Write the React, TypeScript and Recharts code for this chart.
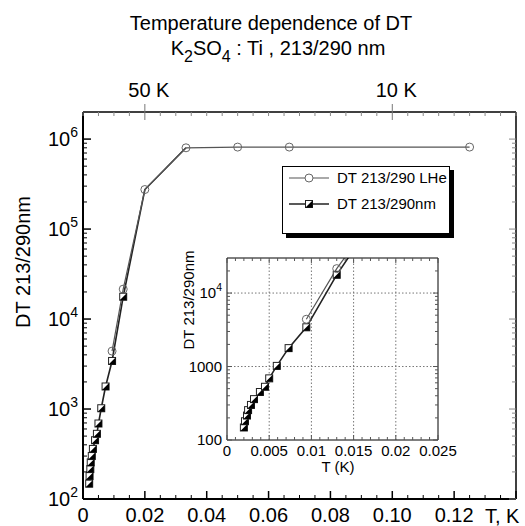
import React from 'react';
import { LineChart, Line, XAxis, YAxis, Legend, ReferenceLine } from 'recharts';

// DT 213/290nm (half-filled squares), x = 1/T
const nmInvT = [0.002, 0.00213, 0.00237, 0.0025, 0.00284, 0.0032, 0.0039, 0.0045, 0.005, 0.0059, 0.0073, 0.0094, 0.013, 0.02, 0.0333];
const nmDT = [148, 180, 215, 255, 300, 360, 450, 530, 690, 1020, 1780, 3420, 17700, 275000, 800000];

// DT 213/290 LHe (open circles)
const lheInvT = [0.0094, 0.013, 0.02, 0.0333, 0.05, 0.0667, 0.125];
const lheDT = [4400, 21500, 275000, 800000, 815000, 815000, 815000];

const mainXTickValues = [0, 0.02, 0.04, 0.06, 0.08, 0.1, 0.12];
const mainXTickLabels = ['0', '0.02', '0.04', '0.06', '0.08', '0.10', '0.12'];
const topTickValues = [0.02, 0.1];
const topTickLabels = ['50 K', '10 K'];
const mainYTickValues = [100, 1000, 10000, 100000, 1000000];
const mainYTickLabels = ['10^2', '10^3', '10^4', '10^5', '10^6'];

const insetXTickValues = [0, 0.005, 0.01, 0.015, 0.02, 0.025];
const insetXTickLabels = ['0', '0.005', '0.01', '0.015', '0.02', '0.025'];
const insetYTickValues = [100, 1000, 10000];
const insetYTickLabels = ['100', '1000', '10^4'];
const insetGridX = [0.005, 0.01, 0.015, 0.02];
const insetGridY = [1000, 10000];

const nmData = nmInvT.map((x, i) => ({ x, dt: nmDT[i] }));
const lheData = lheInvT.map((x, i) => ({ x, dt: lheDT[i] }));

const FONT = '"Liberation Sans", Arial, Helvetica, sans-serif';

const near = (v: number, arr: number[]) => arr.findIndex((t) => Math.abs(t - v) < 1e-9);
const linTicks = (max: number, step: number) => {
  const out: number[] = [];
  for (let k = 0; k * step <= max + 1e-9; k++) out.push(Number((k * step).toFixed(6)));
  return out;
};
const logTicks = (min: number, max: number) => {
  const out: number[] = [];
  for (let d = min; d < max; d *= 10) for (let m = 1; m < 10; m++) if (d * m < max) out.push(d * m);
  return out;
};

const mainXTicks = linTicks(0.14, 0.005);
const mainYTicks = logTicks(100, 2e6);
const insetXTicks = linTicks(0.025, 0.001);
const insetYTicks = logTicks(100, 30000);

const SupText = ({ x, y, label, size, anchor }: any) => {
  const [base, exp] = label.split('^');
  return (
    <text x={x} y={y} textAnchor={anchor} fontSize={size} fontFamily={FONT} fill="#000">
      {base}
      {exp && (
        <tspan dy={-size * 0.45} fontSize={size * 0.7}>
          {exp}
        </tspan>
      )}
    </text>
  );
};

// ---- main chart ticks (drawn inward) ----
const MainBottomTick = ({ x, y, payload }: any) => {
  const i = near(payload.value, mainXTickValues);
  const major = Math.round(payload.value / 0.005) % 4 === 0;
  return (
    <g>
      <line x1={x} x2={x} y1={y} y2={y - (major ? 8 : 4)} stroke="#000" strokeWidth={major ? 1.5 : 1} />
      {i >= 0 && (
        <text x={x} y={y + 23} textAnchor="middle" fontSize={20} fontFamily={FONT} fill="#000">
          {mainXTickLabels[i]}
        </text>
      )}
    </g>
  );
};

const MainTopTick = ({ x, y, payload }: any) => {
  const i = near(payload.value, topTickValues);
  return (
    <g>
      {i >= 0 ? (
        <line x1={x} x2={x} y1={y - 8} y2={y + 8} stroke="#777" />
      ) : (
        <line x1={x} x2={x} y1={y} y2={y + 4} stroke="#888" />
      )}
      {i >= 0 && (
        <text x={x + 4} y={y - 15} textAnchor="middle" fontSize={20} fontFamily={FONT} fill="#000">
          {topTickLabels[i]}
        </text>
      )}
    </g>
  );
};

const MainLeftTick = ({ x, y, payload }: any) => {
  const i = near(payload.value, mainYTickValues);
  return (
    <g>
      <line x1={x} x2={x + (i >= 0 ? 8 : 4)} y1={y} y2={y} stroke="#000" strokeWidth={i >= 0 ? 1.5 : 1} />
      {i >= 0 && <SupText x={x - 5} y={y + 7} label={mainYTickLabels[i]} size={20} anchor="end" />}
    </g>
  );
};

const MainRightTick = ({ x, y, payload }: any) => {
  const i = near(payload.value, mainYTickValues);
  return <line x1={x} x2={x - (i >= 0 ? 7 : 4)} y1={y} y2={y} stroke="#888" />;
};

// ---- inset ticks ----
const InsetBottomTick = ({ x, y, payload }: any) => {
  const i = near(payload.value, insetXTickValues);
  return (
    <g>
      <line x1={x} x2={x} y1={y} y2={y - (i >= 0 ? 5 : 3)} stroke="#555" />
      {i >= 0 && (
        <text x={x} y={y + 16} textAnchor="middle" fontSize={15} fontFamily={FONT} fill="#000">
          {insetXTickLabels[i]}
        </text>
      )}
    </g>
  );
};

const InsetTopTick = ({ x, y, payload }: any) => {
  const i = near(payload.value, insetXTickValues);
  return <line x1={x} x2={x} y1={y} y2={y + (i >= 0 ? 5 : 3)} stroke="#555" />;
};

const InsetLeftTick = ({ x, y, payload }: any) => {
  const i = near(payload.value, insetYTickValues);
  return (
    <g>
      <line x1={x} x2={x + (i >= 0 ? 5 : 3)} y1={y} y2={y} stroke="#555" />
      {i >= 0 && <SupText x={x - 5} y={y + 5} label={insetYTickLabels[i]} size={15} anchor="end" />}
    </g>
  );
};

const InsetRightTick = ({ x, y, payload }: any) => {
  const i = near(payload.value, insetYTickValues);
  return <line x1={x} x2={x - (i >= 0 ? 5 : 3)} y1={y} y2={y} stroke="#555" />;
};

// ---- markers ----
const HalfSquare = (props: any) => {
  const { cx, cy, index, payload } = props;
  if (cx == null || cy == null || payload.x > 0.015) return <g key={`s${index}`} />;
  const h = 3.5;
  return (
    <g key={`s${index}`}>
      <rect x={cx - h} y={cy - h} width={2 * h} height={2 * h} fill="#fff" stroke="#222" strokeWidth={1} />
      <polygon points={`${cx + h},${cy - h} ${cx + h},${cy + h} ${cx - h},${cy + h}`} fill="#000" />
    </g>
  );
};

const OpenCircle = (props: any) => {
  const { cx, cy, index } = props;
  if (cx == null || cy == null) return <g key={`c${index}`} />;
  return <circle key={`c${index}`} cx={cx} cy={cy} r={4} fill="none" stroke="#666" strokeWidth={1} />;
};

const LegendBox = () => (
  <div style={{ width: 166, height: 66, border: '1.5px solid #000', boxShadow: '4px 4px 0 #000', background: '#fff' }}>
    <svg width={166} height={66}>
      <line x1={6} x2={46} y1={11} y2={11} stroke="#555" strokeWidth={1.2} />
      <circle cx={26} cy={11} r={4} fill="#fff" stroke="#666" />
      <text x={54} y={16} fontSize={15} fontFamily={FONT} fill="#000">
        DT 213/290 LHe
      </text>
      <line x1={6} x2={46} y1={37} y2={37} stroke="#222" strokeWidth={1.6} />
      <rect x={22.5} y={33.5} width={7} height={7} fill="#fff" stroke="#222" />
      <polygon points="29.5,33.5 29.5,40.5 22.5,40.5" fill="#000" />
      <text x={54} y={42} fontSize={15} fontFamily={FONT} fill="#000">
        DT 213/290nm
      </text>
    </svg>
  </div>
);

export default function App() {
  return (
    <div style={{ position: 'absolute', left: 0, top: 0, width: 525, height: 526, background: '#fff' }}>
      <LineChart width={525} height={526} margin={{ top: 0, right: 0, bottom: 0, left: 0 }}>
        <XAxis xAxisId="b" type="number" dataKey="x" domain={[0, 0.14]} allowDataOverflow ticks={mainXTicks} interval={0}
          tick={MainBottomTick} tickLine={false} tickSize={0} tickMargin={0} height={27} axisLine={{ stroke: '#000', strokeWidth: 2 }} />
        <XAxis xAxisId="t" orientation="top" type="number" dataKey="x" domain={[0, 0.14]} allowDataOverflow ticks={mainXTicks} interval={0}
          tick={MainTopTick} tickLine={false} tickSize={0} tickMargin={0} height={112} axisLine={{ stroke: '#000', strokeWidth: 1.5 }} />
        <YAxis yAxisId="l" type="number" scale="log" domain={[100, 2e6]} allowDataOverflow ticks={mainYTicks} interval={0}
          tick={MainLeftTick} tickLine={false} tickSize={0} tickMargin={0} width={83} axisLine={{ stroke: '#000', strokeWidth: 2 }} />
        <YAxis yAxisId="r" orientation="right" type="number" scale="log" domain={[100, 2e6]} allowDataOverflow ticks={mainYTicks} interval={0}
          tick={MainRightTick} tickLine={false} tickSize={0} tickMargin={0} width={9} axisLine={{ stroke: '#000', strokeWidth: 1.5 }} />
        <Legend layout="vertical" align="center" verticalAlign="middle" content={LegendBox}
          wrapperStyle={{ left: 282, top: 166, width: 172, height: 72 }} />
        {/* invisible copy so the top/right frame axes get a domain */}
        <Line xAxisId="t" yAxisId="r" data={lheData} dataKey="dt" stroke="none" dot={false} activeDot={false}
          legendType="none" isAnimationActive={false} />
        <Line xAxisId="b" yAxisId="l" data={nmData} dataKey="dt" type="linear" stroke="#222" strokeWidth={1.6}
          dot={HalfSquare} activeDot={false} isAnimationActive={false} />
        <Line xAxisId="b" yAxisId="l" data={lheData} dataKey="dt" type="linear" stroke="#555" strokeWidth={1.2}
          dot={OpenCircle} activeDot={false} isAnimationActive={false} />
      </LineChart>

      <div style={{ position: 'absolute', left: 150, top: 240 }}>
        <LineChart width={330} height={240} margin={{ top: 0, right: 0, bottom: 0, left: 0 }}>
          <XAxis xAxisId="b" type="number" dataKey="x" domain={[0, 0.025]} allowDataOverflow ticks={insetXTicks} interval={0}
            tick={InsetBottomTick} tickLine={false} tickSize={0} tickMargin={0} height={40} axisLine={{ stroke: '#000' }} />
          <XAxis xAxisId="t" orientation="top" type="number" dataKey="x" domain={[0, 0.025]} allowDataOverflow ticks={insetXTicks} interval={0}
            tick={InsetTopTick} tickLine={false} tickSize={0} tickMargin={0} height={18} axisLine={{ stroke: '#000' }} />
          <YAxis yAxisId="l" type="number" scale="log" domain={[100, 30000]} allowDataOverflow ticks={insetYTicks} interval={0}
            tick={InsetLeftTick} tickLine={false} tickSize={0} tickMargin={0} width={77} axisLine={{ stroke: '#000' }} />
          <YAxis yAxisId="r" orientation="right" type="number" scale="log" domain={[100, 30000]} allowDataOverflow ticks={insetYTicks} interval={0}
            tick={InsetRightTick} tickLine={false} tickSize={0} tickMargin={0} width={42} axisLine={{ stroke: '#000' }} />
          {insetGridX.map((v) => (
            <ReferenceLine key={`gx${v}`} xAxisId="b" yAxisId="l" x={v} stroke="#777" strokeDasharray="1.5 2" />
          ))}
          {insetGridY.map((v) => (
            <ReferenceLine key={`gy${v}`} xAxisId="b" yAxisId="l" y={v} stroke="#777" strokeDasharray="1.5 2" />
          ))}
          <Line xAxisId="t" yAxisId="r" data={nmData} dataKey="dt" stroke="none" dot={false} activeDot={false}
            legendType="none" isAnimationActive={false} />
          <Line xAxisId="b" yAxisId="l" data={nmData} dataKey="dt" type="linear" stroke="#222" strokeWidth={1.6}
            dot={HalfSquare} activeDot={false} isAnimationActive={false} />
          <Line xAxisId="b" yAxisId="l" data={lheData} dataKey="dt" type="linear" stroke="#555" strokeWidth={1.2}
            dot={OpenCircle} activeDot={false} isAnimationActive={false} />
        </LineChart>
      </div>

      <svg width={525} height={526} style={{ position: 'absolute', left: 0, top: 0, pointerEvents: 'none' }} fontFamily={FONT}>
        <text x={271} y={30} textAnchor="middle" fontSize={20} fill="#000">
          Temperature dependence of DT
        </text>
        <text x={278} y={55} textAnchor="middle" fontSize={20} fill="#000">
          K<tspan dy={7} fontSize={16}>2</tspan>
          <tspan dy={-7}>SO</tspan>
          <tspan dy={7} fontSize={16}>4</tspan>
          <tspan dy={-7}> : Ti , 213/290 nm</tspan>
        </text>
        <text transform="translate(30,262) rotate(-90)" textAnchor="middle" fontSize={20} fill="#000">
          DT 213/290nm
        </text>
        <text x={485} y={523} fontSize={20} fill="#000">
          T, K
        </text>
        <text transform="translate(194,300) rotate(-90)" textAnchor="middle" fontSize={15} fill="#000">
          DT 213/290nm
        </text>
        <text x={338} y={472} textAnchor="middle" fontSize={15} fill="#000">
          T (K)
        </text>
      </svg>
    </div>
  );
}
